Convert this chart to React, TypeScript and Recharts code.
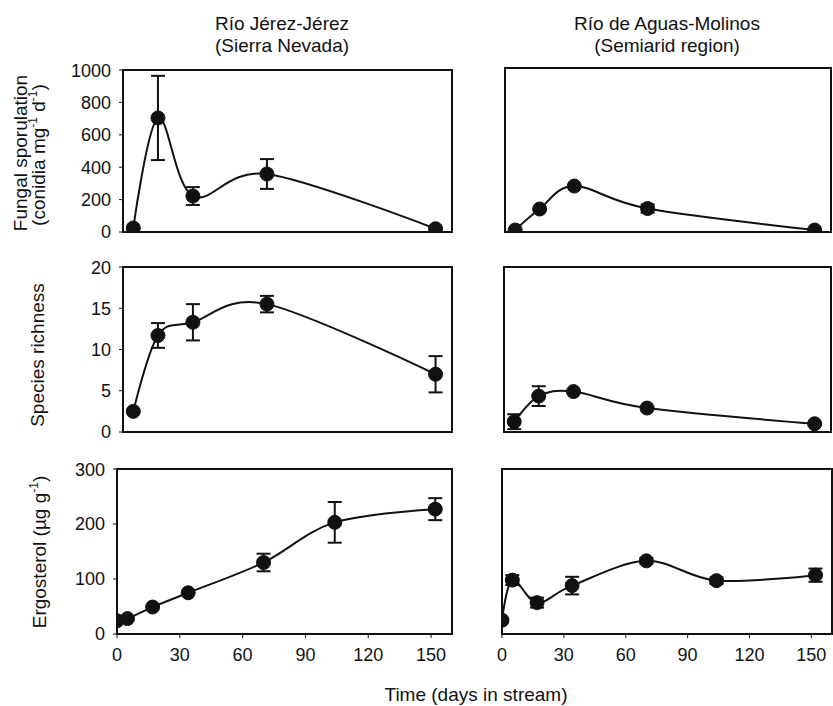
import React from "react"
import {
  LineChart,
  Line,
  XAxis,
  YAxis,
  ErrorBar,
  ReferenceArea,
} from "recharts"

// sampling days
const daysSpor = [5, 17, 34, 70, 152]
const daysRich = [5, 17, 34, 70, 152]
const daysErgo = [0, 5, 17, 34, 70, 104, 152]

// fungal sporulation (conidia mg-1 d-1)
const sporJerez = [25, 704, 222, 358, 20]
const sporJerezErr = [0, 260, 55, 92, 0]
const sporAguas = [12, 140, 280, 143, 12]
const sporAguasErr = [0, 0, 0, 25, 0]

// species richness
const richJerez = [2.5, 11.7, 13.3, 15.5, 7.0]
const richJerezErr = [0, 1.5, 2.2, 1.0, 2.2]
const richAguas = [1.25, 4.35, 4.9, 2.9, 1.0]
const richAguasErr = [0.9, 1.2, 0, 0, 0]

// ergosterol (ug g-1)
const ergoJerez = [24, 28, 49, 75, 130, 203, 227]
const ergoJerezErr = [0, 0, 0, 0, 16, 37, 20]
const ergoAguas = [25, 98, 57, 88, 133, 97, 107]
const ergoAguasErr = [0, 9, 9, 16, 5, 6, 12]

const dayTicks = [0, 30, 60, 90, 120, 150]
const sporTicks = [0, 200, 400, 600, 800, 1000]
const richTicks = [0, 5, 10, 15, 20]
const ergoTicks = [0, 100, 200, 300]

const FONT = '"Liberation Sans", Arial, Helvetica, sans-serif'
const INK = "#111"

const toRows = (days: number[], vals: number[], errs: number[]) =>
  days.map((d, i) => ({ day: d, value: vals[i], err: errs[i] }))

// Excel-like smoothed line (cardinal spline, tension 0)
function smoothCurve(context: any) {
  let x0 = NaN, x1 = NaN, x2 = NaN, y0 = NaN, y1 = NaN, y2 = NaN
  let pt = 0
  const k = 1 / 6
  const seg = (x: number, y: number) => {
    context.bezierCurveTo(
      x1 + k * (x2 - x0),
      y1 + k * (y2 - y0),
      x2 + k * (x1 - x),
      y2 + k * (y1 - y),
      x2,
      y2
    )
  }
  return {
    areaStart() {},
    areaEnd() {},
    lineStart() {
      x0 = x1 = x2 = y0 = y1 = y2 = NaN
      pt = 0
    },
    lineEnd() {
      if (pt === 2) context.lineTo(x2, y2)
      else if (pt === 3) seg(x1, y1)
    },
    point(x: number, y: number) {
      x = +x
      y = +y
      switch (pt) {
        case 0:
          pt = 1
          context.moveTo(x, y)
          break
        case 1:
          pt = 2
          x1 = x
          y1 = y
          break
        case 2:
          pt = 3
          seg(x, y)
          break
        default:
          seg(x, y)
          break
      }
      x0 = x1; x1 = x2; x2 = x
      y0 = y1; y1 = y2; y2 = y
    },
  }
}

interface PanelProps {
  left: number
  top: number
  width: number
  height: number
  data: { day: number; value: number; err: number }[]
  yMax: number
  yTicks: number[]
  yLabels: boolean
  xLabels: boolean
}

const YW = 60
const MT = 10
const XH = 40

function Panel({ left, top, width, height, data, yMax, yTicks, yLabels, xLabels }: PanelProps) {
  const tickStyle = { fill: INK, fontSize: 18, fontFamily: FONT }
  return (
    <div style={{ position: "absolute", left: left - YW, top: top - MT }}>
      <LineChart
        width={width + YW + 4}
        height={height + MT + XH}
        data={data}
        margin={{ top: MT, right: 4, bottom: 0, left: 0 }}
      >
        <XAxis
          dataKey="day"
          type="number"
          domain={[0, 160]}
          ticks={dayTicks}
          allowDataOverflow
          height={XH}
          axisLine={false}
          tickLine={{ stroke: INK, strokeWidth: 1 }}
          tickSize={4}
          tickMargin={10}
          tick={xLabels ? tickStyle : false}
        />
        <YAxis
          type="number"
          domain={[0, yMax]}
          ticks={yTicks}
          allowDataOverflow
          width={YW}
          axisLine={false}
          tickLine={{ stroke: INK, strokeWidth: 1 }}
          tickSize={4}
          tickMargin={8}
          tick={yLabels ? tickStyle : false}
        />
        <ReferenceArea
          x1={0}
          x2={160}
          y1={0}
          y2={yMax}
          fill="none"
          fillOpacity={0}
          stroke={INK}
          strokeWidth={2}
        />
        <Line
          dataKey="value"
          type={smoothCurve as any}
          stroke={INK}
          strokeWidth={2}
          dot={{ r: 7, fill: INK, stroke: INK, strokeWidth: 1 }}
          activeDot={false}
          isAnimationActive={false}
        >
          <ErrorBar dataKey="err" direction="y" width={7} stroke={INK} strokeWidth={2} />
        </Line>
      </LineChart>
    </div>
  )
}

export default function App() {
  const textStyle = { fontFamily: FONT, fill: INK }
  return (
    <div
      style={{
        position: "absolute",
        left: 0,
        top: 0,
        width: 833,
        height: 706,
        overflow: "hidden",
        background: "#fff",
      }}
    >
      <Panel left={123} top={70} width={329} height={162} data={toRows(daysSpor, sporJerez, sporJerezErr)} yMax={1000} yTicks={sporTicks} yLabels xLabels={false} />
      <Panel left={505} top={68} width={326} height={164} data={toRows(daysSpor, sporAguas, sporAguasErr)} yMax={1000} yTicks={sporTicks} yLabels={false} xLabels={false} />
      <Panel left={123} top={267} width={329} height={165} data={toRows(daysRich, richJerez, richJerezErr)} yMax={20} yTicks={richTicks} yLabels xLabels={false} />
      <Panel left={504} top={267} width={327} height={165} data={toRows(daysRich, richAguas, richAguasErr)} yMax={20} yTicks={richTicks} yLabels={false} xLabels={false} />
      <Panel left={117} top={469} width={335} height={165} data={toRows(daysErgo, ergoJerez, ergoJerezErr)} yMax={300} yTicks={ergoTicks} yLabels xLabels />
      <Panel left={502} top={469} width={330} height={165} data={toRows(daysErgo, ergoAguas, ergoAguasErr)} yMax={300} yTicks={ergoTicks} yLabels={false} xLabels />

      <svg width={833} height={706} style={{ position: "absolute", left: 0, top: 0, pointerEvents: "none" }}>
        <text x={282} y={30} textAnchor="middle" fontSize={19} style={textStyle}>Río Jérez-Jérez</text>
        <text x={282} y={52} textAnchor="middle" fontSize={19} style={textStyle}>(Sierra Nevada)</text>
        <text x={667} y={30} textAnchor="middle" fontSize={19} style={textStyle}>Río de Aguas-Molinos</text>
        <text x={667} y={52} textAnchor="middle" fontSize={19} style={textStyle}>(Semiarid region)</text>

        <text x={27} y={153} textAnchor="middle" fontSize={19} transform="rotate(-90 27 153)" style={textStyle}>Fungal sporulation</text>
        <text x={45} y={155} textAnchor="middle" fontSize={19} transform="rotate(-90 45 155)" style={textStyle}>
          (conidia mg<tspan fontSize={12} dy={-8}>-1</tspan><tspan dy={8}> d</tspan><tspan fontSize={12} dy={-8}>-1</tspan><tspan dy={8}>)</tspan>
        </text>
        <text x={44} y={355} textAnchor="middle" fontSize={19} transform="rotate(-90 44 355)" style={textStyle}>Species richness</text>
        <text x={46} y={552} textAnchor="middle" fontSize={19} transform="rotate(-90 46 552)" style={textStyle}>
          Ergosterol (µg g<tspan fontSize={12} dy={-8}>-1</tspan><tspan dy={8}>)</tspan>
        </text>

        <text x={476} y={701} textAnchor="middle" fontSize={19} style={textStyle}>Time (days in stream)</text>
      </svg>
    </div>
  )
}
